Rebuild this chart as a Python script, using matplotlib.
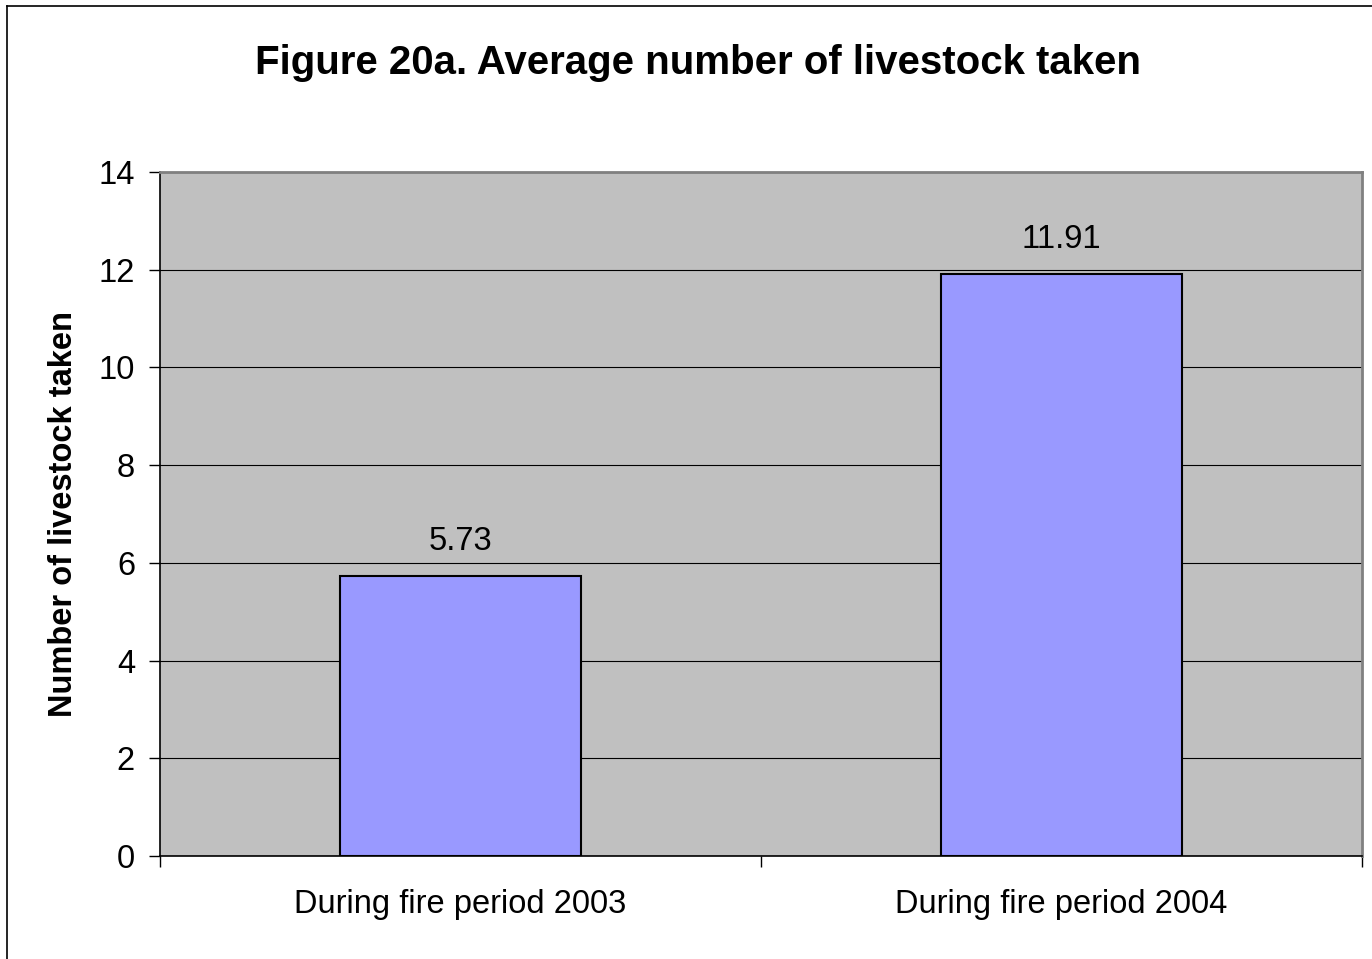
import numpy as np
import matplotlib.pyplot as plt
from matplotlib.lines import Line2D

# data
categories = ["During fire period 2003", "During fire period 2004"]
values = [5.73, 11.91]
value_labels = ["5.73", "11.91"]

plt.rcParams['font.family'] = ['Liberation Sans', 'DejaVu Sans']

W, H = 1372, 959
f = plt.figure(figsize=(W / 100, H / 100), dpi=100)
ax = f.add_axes([160 / W, 1 - 856 / H, (1362 - 160) / W, (856 - 172) / H])

x = np.arange(len(categories))
ax.set_facecolor('#C0C0C0')
ax.bar(x, values, width=0.4, color='#9999FF', edgecolor='black', linewidth=1.5, zorder=3)
for xi, v, lab in zip(x, values, value_labels):
    ax.text(xi, v + 0.4, lab, ha='center', va='bottom', fontsize=23.5, zorder=4)

ax.set_xlim(-0.5, len(categories) - 0.5)
ax.set_ylim(0, 14)
ax.set_yticks(np.arange(0, 15, 2))
ax.yaxis.grid(True, color='black', linewidth=0.8, zorder=1)
ax.set_axisbelow(True)

# category labels between boundary ticks
ax.set_xticks(np.arange(-0.5, len(categories), 1))
ax.set_xticklabels([])
ax.set_xticks(x, minor=True)
ax.set_xticklabels(categories, minor=True, fontsize=23.5)
ax.tick_params(axis='x', which='minor', length=0, pad=24)
ax.tick_params(axis='x', which='major', length=8, width=1, direction='out')
ax.tick_params(axis='y', labelsize=23.5, length=8, width=1, direction='out', pad=10)

for s in ['left', 'bottom']:
    ax.spines[s].set_color('black')
    ax.spines[s].set_linewidth(1.2)
for s in ['top', 'right']:
    ax.spines[s].set_color('#808080')
    ax.spines[s].set_linewidth(2)

ax.set_ylabel("Number of livestock taken", fontsize=23.5, fontweight='bold', labelpad=14)
f.text(698 / W, 1 - 63 / H, "Figure 20a. Average number of livestock taken",
       ha='center', va='center', fontsize=29, fontweight='bold')

# outer frame (top and left visible)
f.add_artist(Line2D([7 / W, 7 / W], [0, 1 - 6 / H], color='black', linewidth=1.2, transform=f.transFigure))
f.add_artist(Line2D([7 / W, 1], [1 - 6 / H, 1 - 6 / H], color='black', linewidth=1.2, transform=f.transFigure))

f.savefig('out.png', dpi=100)
